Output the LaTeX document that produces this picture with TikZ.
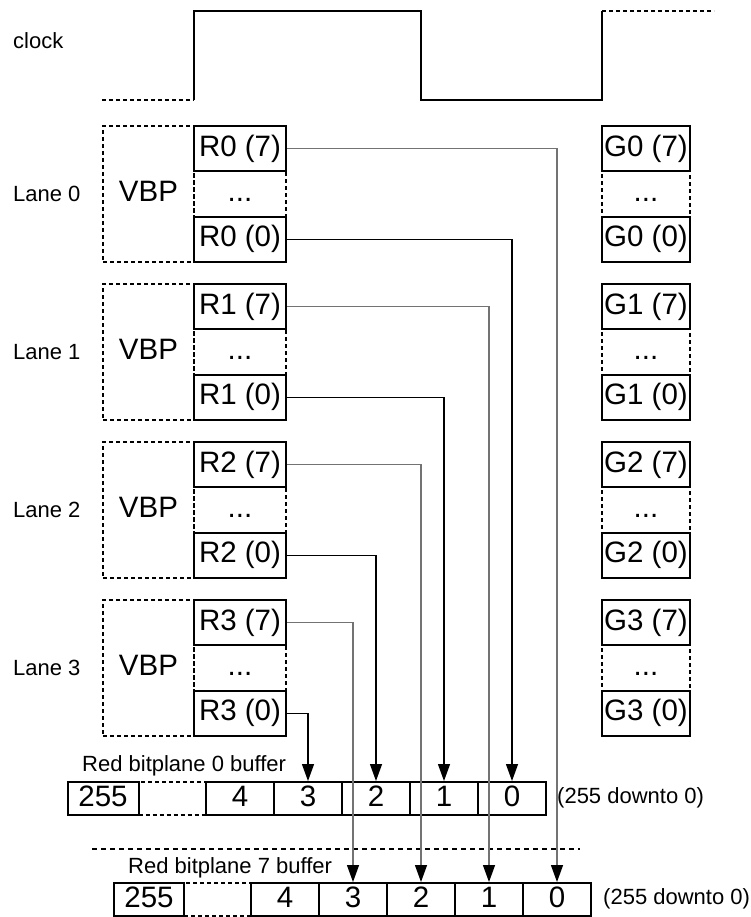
\documentclass[tikz,border=0pt]{standalone}
\usepackage{fontspec}
\setmainfont{Liberation Sans}
\usetikzlibrary{arrows.meta}
\begin{document}
\begin{tikzpicture}[x=1pt,y=-1pt,
  box/.style={draw, line width=2pt, inner sep=0pt, font=\fontsize{29.5}{33}\selectfont, text height=21pt, text depth=6pt},
  dbox/.style={box, dash pattern=on 4pt off 3pt},
  lbl/.style={inner sep=0pt, font=\fontsize{22}{26}\selectfont},
  wave/.style={line width=2pt},
  dwave/.style={line width=2pt, dash pattern=on 4pt off 3pt},
  sep/.style={line width=2pt, dash pattern=on 5pt off 4pt},
  connb/.style={line width=1.3pt, black, -{Triangle[length=17pt,width=12pt]}},
  conng/.style={line width=1.3pt, black!55, -{Triangle[length=17pt,width=12pt,color=black]}}
]
\useasboundingbox (0,0) rectangle (751,917);

% clock
\node[lbl, anchor=west] (clk) at (13,41) {clock};
\draw[dwave] (102,100) -- (194,100);
\draw[wave] (194,100) -- (194,11) -- (421,11) -- (421,100) -- (602,100) -- (602,11);
\draw[dwave] (602,11) -- (714,11);

% lanes
\foreach \i in {0,1,2,3}{
  \pgfmathsetmacro{\T}{126+158*\i}
  \pgfmathsetmacro{\ya}{\T+22.67}
  \pgfmathsetmacro{\yb}{\T+68}
  \pgfmathsetmacro{\yc}{\T+113.33}
  \node[lbl, anchor=west] (lane\i) at (13,\yb) {Lane \i};
  \node[dbox, minimum width=91pt, minimum height=136pt] (vbp\i) at (148.5,\yb) {VBP};
  \node[dbox, minimum width=92pt, minimum height=45.33pt] (r\i d) at (240,\yb) {...};
  \node[dbox, minimum width=88pt, minimum height=45.33pt] (g\i d) at (646,\yb) {...};
  \node[box, minimum width=92pt, minimum height=45.33pt] (r\i7) at (240,\ya) {R\i{} (7)};
  \node[box, minimum width=92pt, minimum height=45.33pt] (r\i0) at (240,\yc) {R\i{} (0)};
  \node[box, minimum width=88pt, minimum height=45.33pt] (g\i7) at (646,\ya) {G\i{} (7)};
  \node[box, minimum width=88pt, minimum height=45.33pt] (g\i0) at (646,\yc) {G\i{} (0)};
}

% buffer 0
\node[lbl, anchor=west] (b0lbl) at (82,766) {Red bitplane 0 buffer};
\node[dbox, minimum width=67pt, minimum height=33pt] (b0dots) at (172,798.5) {};
\node[box, minimum width=71pt, minimum height=33pt] (b0n) at (103,798.5) {255};
\foreach \k/\x in {4/240,3/308,2/376,1/444,0/512}{
  \node[box, minimum width=68pt, minimum height=33pt] (b0c\k) at (\x,798.5) {\k};
}
\node[lbl, anchor=west] (b0rng) at (557,798) {(255 downto 0)};

% separator
\coordinate (sepL) at (92,849);
\coordinate (sepR) at (580,849);
\draw[sep] (sepL) -- (sepR);

% buffer 7
\node[lbl, anchor=west] (b7lbl) at (128,868) {Red bitplane 7 buffer};
\node[dbox, minimum width=67pt, minimum height=33pt] (b7dots) at (217.5,899.5) {};
\node[box, minimum width=70pt, minimum height=33pt] (b7n) at (149,899.5) {255};
\foreach \k/\x in {4/285,3/353,2/421,1/489,0/557}{
  \node[box, minimum width=68pt, minimum height=33pt] (b7c\k) at (\x,899.5) {\k};
}
\node[lbl, anchor=west] (b7rng) at (603,899) {(255 downto 0)};

% connectors
\foreach \i in {0,1,2,3}{
  \draw[conng] (r\i7.east) -| (b7c\i.north);
  \draw[connb] (r\i0.east) -| (b0c\i.north);
}
\end{tikzpicture}
\end{document}
